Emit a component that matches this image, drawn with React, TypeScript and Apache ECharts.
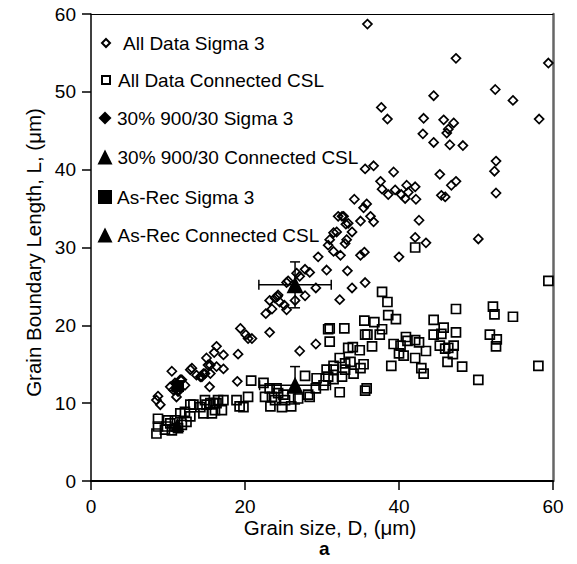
import React, { useEffect, useRef } from "react";
import * as echarts from "echarts";

// All Data Sigma 3 (open diamonds) [D, L]
const allSigma3: number[][] = [
  [35.9, 58.7], [47.4, 54.3], [59.4, 53.7], [44.5, 49.5], [52.5, 50.3], [54.8, 48.9], [37.7, 48.0], [38.5, 46.5],
  [43.2, 46.6], [45.8, 46.4], [47.1, 46.0], [46.4, 45.2], [46.2, 44.7], [58.2, 46.5], [43.1, 44.6], [44.5, 43.5],
  [46.6, 43.2], [48.3, 43.1], [52.6, 41.1], [52.4, 39.8], [35.6, 40.1], [36.7, 40.5], [39.3, 39.7], [45.3, 39.4],
  [47.4, 38.5], [46.8, 38.0], [37.6, 38.5], [37.8, 37.5], [38.6, 36.8], [39.5, 37.4], [40.3, 36.8], [41.0, 38.0],
  [41.2, 37.1], [42.1, 37.8], [42.2, 36.2], [40.8, 36.3], [45.5, 36.7], [46.0, 36.5], [52.6, 37.0], [34.2, 36.2],
  [35.8, 35.6], [35.4, 35.1], [32.6, 34.0], [33.1, 33.0], [33.9, 32.0], [35.0, 33.4], [36.3, 34.0], [36.7, 33.3],
  [31.5, 31.9], [33.0, 30.5], [31.5, 29.5], [32.4, 29.0], [35.0, 29.0], [35.5, 29.4], [42.6, 33.5], [42.1, 31.3],
  [43.5, 30.6], [40.0, 28.8], [50.3, 31.1], [33.3, 27.0], [35.6, 25.5], [33.9, 24.8], [32.3, 23.3],
  [27.8, 27.2], [28.4, 26.8], [26.7, 26.7], [29.2, 24.8], [25.4, 25.5], [27.8, 23.8], [26.5, 23.2], [23.2, 23.2],
  [23.9, 23.5], [24.3, 23.9], [24.5, 23.0], [25.1, 22.6], [25.4, 22.0], [23.5, 22.1], [22.7, 21.5], [19.4, 19.6],
  [20.1, 18.8], [20.4, 18.3], [20.9, 18.3], [23.2, 19.1], [16.3, 17.3], [16.0, 16.5], [17.2, 16.2], [19.1, 16.3],
  [15.2, 14.9], [14.6, 13.8], [15.5, 13.8], [16.3, 14.7], [17.2, 14.4], [13.1, 14.5], [14.2, 13.4], [10.5, 14.1],
  [15.4, 12.1], [19.0, 12.8], [27.1, 16.7], [29.2, 17.6], [11.6, 13.0], [11.1, 10.8],
  [30.8, 30.3], [29.5, 28.8], [32.1, 34.0], [30.6, 27.1], [25.6, 25.7], [24.2, 23.7], [27.1, 26.3],
  [15.0, 15.8], [12.9, 14.3], [11.8, 13.0], [10.9, 12.6], [10.3, 12.1], [10.7, 11.7], [11.3, 11.7], [12.2, 12.3],
  [13.7, 13.6], [14.4, 13.4], [14.8, 13.8], [15.5, 14.9], [8.7, 10.9], [9.0, 9.8], [8.5, 10.4], [11.1, 11.9],
  [11.3, 11.5], [32.8, 34.0], [33.4, 33.1], [31.9, 32.0], [33.2, 31.0], [31.0, 31.0],
];

// All Data Connected CSL (open squares) [D, L]
const allCSL: number[][] = [
  [42.1, 30.0], [59.4, 25.7], [37.8, 24.3], [38.5, 23.0], [38.6, 21.3], [39.6, 20.8], [35.5, 20.6], [36.8, 20.4],
  [37.8, 19.5], [35.6, 18.8], [35.9, 18.8], [37.5, 18.8], [36.5, 17.3], [32.9, 19.6], [31.0, 19.6], [31.0, 17.9],
  [33.4, 17.1], [34.0, 17.2], [34.9, 16.8], [32.3, 15.8], [31.5, 14.8], [33.0, 15.1], [33.7, 15.3], [35.4, 15.0],
  [35.0, 14.5], [33.0, 14.3], [34.1, 13.8], [32.6, 13.4], [31.5, 13.1], [32.3, 11.4], [35.6, 11.6], [35.8, 11.9],
  [44.5, 20.7], [47.4, 22.1], [45.8, 19.7], [44.5, 18.8], [45.5, 18.9], [47.4, 19.1], [40.9, 18.5], [39.3, 17.6],
  [40.2, 17.4], [41.1, 18.0], [42.1, 18.1], [42.6, 17.8], [43.5, 16.7], [40.0, 16.4], [40.6, 16.1], [42.1, 15.8],
  [45.3, 17.4], [46.0, 17.0], [46.4, 17.1], [47.1, 17.4], [47.0, 16.3], [46.3, 15.3], [39.0, 14.8], [42.9, 14.5],
  [43.2, 13.8], [48.2, 14.7], [50.3, 13.0], [52.2, 22.4], [52.4, 21.4], [54.8, 21.1], [51.8, 18.8], [52.7, 18.2],
  [52.6, 17.3], [58.1, 14.8],
  [30.8, 19.5], [20.8, 12.9], [22.4, 12.6], [23.2, 11.9], [24.1, 11.9], [22.6, 10.8], [23.5, 10.8], [24.3, 11.3],
  [25.2, 10.4], [23.3, 9.6], [24.8, 9.5], [26.9, 10.6], [27.8, 13.5], [28.4, 10.8], [29.3, 13.2], [30.2, 12.3],
  [30.8, 13.4], [31.5, 14.3], [30.6, 14.3], [29.2, 11.9], [20.4, 10.8], [18.9, 10.4], [19.3, 9.6], [19.8, 9.5],
  [17.2, 10.4], [16.3, 10.0], [15.0, 9.8], [14.2, 9.5], [17.0, 9.1], [15.7, 8.7], [14.6, 8.7],
  [25.0, 11.1], [28.2, 11.1], [23.9, 10.4], [13.3, 9.8], [15.9, 10.0], [26.0, 9.6],
  [8.7, 7.0], [8.7, 8.0], [8.5, 6.1], [12.9, 9.8], [14.8, 10.4], [15.5, 10.0], [16.5, 10.4], [16.1, 9.1],
  [11.6, 8.7], [12.2, 8.9], [10.9, 7.8], [10.3, 7.4], [9.8, 7.0], [9.6, 6.6], [11.3, 6.8], [12.4, 7.6],
  [12.9, 8.3], [10.5, 6.5], [11.8, 7.2], [10.0, 7.8],
];

// Averages: [D, L, D error, L error]
const pct30Sigma3: number[][] = [[26.5, 25.2, 4.7, 2.95]];
const pct30CSL: number[][] = [[26.5, 12.3, 4.6, 2.4]];
const asRecSigma3: number[][] = [[11.3, 12.2]];
const asRecCSL: number[][] = [[11.2, 7.2]];

const xTicks = { min: 0, max: 60, interval: 20 };
const yTicks = { min: 0, max: 60, interval: 10 };

const FONT = "'Liberation Sans', Arial, Helvetica, sans-serif";

export default function App() {
  const ref = useRef<HTMLDivElement>(null);

  useEffect(() => {
    if (!ref.current) return;
    const chart = echarts.init(ref.current, undefined, { renderer: "svg" });

    const openStyle = { color: "rgba(0,0,0,0)", borderColor: "#000", borderWidth: 1.7, opacity: 1 };
    const solidStyle = { color: "#000", borderColor: "#000", borderWidth: 0, opacity: 1 };

    // cy: row centre, s: symbol size, tx: x where the text starts
    const legendRows = [
      { name: "All Data Sigma 3", cy: 43, s: 8, tx: 122 },
      { name: "All Data Connected CSL", cy: 80, s: 8, tx: 117 },
      { name: "30% 900/30 Sigma 3", cy: 118, s: 13, tx: 117 },
      { name: "30% 900/30 Connected CSL", cy: 157, s: 15, tx: 117 },
      { name: "As-Rec Sigma 3", cy: 197, s: 14, tx: 117 },
      { name: "As-Rec Connected CSL", cy: 235, s: 15, tx: 117 },
    ];

    const errorBars = pct30Sigma3.concat(pct30CSL);

    chart.setOption({
      animation: false,
      backgroundColor: "#fff",
      textStyle: { fontFamily: FONT, color: "#000" },
      grid: { left: 91, top: 14, width: 462, height: 467, containLabel: false },
      legend: legendRows.map((r) => {
        const left = 105 - r.s / 2;
        const pad = Math.max(0, r.tx - (left + r.s + 5));
        return {
          data: [r.name],
          left,
          top: r.cy - 11,
          itemWidth: r.s,
          itemHeight: r.s,
          itemGap: 0,
          padding: 0,
          selectedMode: false,
          textStyle: {
            fontSize: 19,
            color: "#000",
            fontFamily: FONT,
            lineHeight: 22,
            padding: [0, 0, 0, pad],
          },
        };
      }),
      xAxis: [
        {
          type: "value",
          position: "bottom",
          ...xTicks,
          axisLine: { show: true, onZero: false, lineStyle: { color: "#000", width: 2 } },
          axisTick: { show: true, inside: false, length: 9, lineStyle: { color: "#000", width: 1.5 } },
          axisLabel: { show: true, fontSize: 19, color: "#000", margin: 16, fontFamily: FONT },
          splitLine: { show: false },
          name: "Grain size, D, (μm)",
          nameLocation: "middle",
          nameGap: 36,
          nameMoveOverlap: false,
          nameTextStyle: { fontSize: 20.5, color: "#000", fontFamily: FONT, padding: [0, 0, 0, 16] },
        },
        {
          type: "value",
          position: "top",
          ...xTicks,
          axisLine: { show: true, onZero: false, lineStyle: { color: "#000", width: 1 } },
          axisTick: { show: false },
          axisLabel: { show: false },
          splitLine: { show: false },
        },
      ],
      yAxis: [
        {
          type: "value",
          position: "left",
          ...yTicks,
          axisLine: { show: true, onZero: false, lineStyle: { color: "#000", width: 1.5 } },
          axisTick: { show: true, inside: false, length: 9, lineStyle: { color: "#000", width: 1.5 } },
          axisLabel: { show: true, fontSize: 19, color: "#000", margin: 15, fontFamily: FONT },
          splitLine: { show: false },
          name: "Grain Boundary Length, L, (μm)",
          nameLocation: "middle",
          nameGap: 47,
          nameMoveOverlap: false,
          nameTextStyle: { fontSize: 20.5, color: "#000", fontFamily: FONT, padding: [0, 10, 0, 0] },
        },
        {
          type: "value",
          position: "right",
          ...yTicks,
          axisLine: { show: true, onZero: false, lineStyle: { color: "#666", width: 2.5 } },
          axisTick: { show: false },
          axisLabel: { show: false },
          splitLine: { show: false },
        },
      ],
      graphic: [
        {
          type: "text",
          left: 319,
          top: 539,
          style: { text: "a", font: `bold 19px ${FONT}`, fill: "#000" },
        },
      ],
      series: [
        {
          name: "All Data Sigma 3",
          type: "scatter",
          symbol: "diamond",
          symbolSize: 9,
          itemStyle: openStyle,
          data: allSigma3,
          z: 2,
        },
        {
          name: "All Data Connected CSL",
          type: "scatter",
          symbol: "rect",
          symbolSize: 9,
          itemStyle: openStyle,
          data: allCSL,
          z: 2,
        },
        {
          name: "errbars",
          type: "custom",
          data: errorBars,
          encode: { x: 0, y: 1 },
          z: 3,
          renderItem: (params: any, api: any) => {
            const x = api.value(0);
            const y = api.value(1);
            const ex = api.value(2);
            const ey = api.value(3);
            const l = api.coord([x - ex, y]);
            const r = api.coord([x + ex, y]);
            const b = api.coord([x, y - ey]);
            const t = api.coord([x, y + ey]);
            const cap = 5;
            const st = { stroke: "#000", lineWidth: 1.5 };
            return {
              type: "group",
              children: [
                { type: "line", shape: { x1: l[0], y1: l[1], x2: r[0], y2: r[1] }, style: st },
                { type: "line", shape: { x1: b[0], y1: b[1], x2: t[0], y2: t[1] }, style: st },
                { type: "line", shape: { x1: l[0], y1: l[1] - cap, x2: l[0], y2: l[1] + cap }, style: st },
                { type: "line", shape: { x1: r[0], y1: r[1] - cap, x2: r[0], y2: r[1] + cap }, style: st },
                { type: "line", shape: { x1: t[0] - cap, y1: t[1], x2: t[0] + cap, y2: t[1] }, style: st },
                { type: "line", shape: { x1: b[0] - cap, y1: b[1], x2: b[0] + cap, y2: b[1] }, style: st },
              ],
            };
          },
        },
        {
          name: "30% 900/30 Sigma 3",
          type: "scatter",
          symbol: "diamond",
          symbolSize: 13,
          itemStyle: solidStyle,
          data: pct30Sigma3.map((d) => ({ value: [d[0], d[1]], symbol: "triangle", symbolSize: 17 })),
          z: 4,
        },
        {
          name: "30% 900/30 Connected CSL",
          type: "scatter",
          symbol: "triangle",
          symbolSize: 17,
          itemStyle: solidStyle,
          data: pct30CSL.map((d) => [d[0], d[1]]),
          z: 4,
        },
        {
          name: "As-Rec Sigma 3",
          type: "scatter",
          symbol: "rect",
          symbolSize: 12,
          itemStyle: solidStyle,
          data: asRecSigma3,
          z: 4,
        },
        {
          name: "As-Rec Connected CSL",
          type: "scatter",
          symbol: "triangle",
          symbolSize: 14,
          itemStyle: solidStyle,
          data: asRecCSL,
          z: 4,
        },
      ],
    });

    return () => chart.dispose();
  }, []);

  return (
    <div
      ref={ref}
      style={{ position: "absolute", left: 0, top: 0, width: 577, height: 564, background: "#fff" }}
    />
  );
}
